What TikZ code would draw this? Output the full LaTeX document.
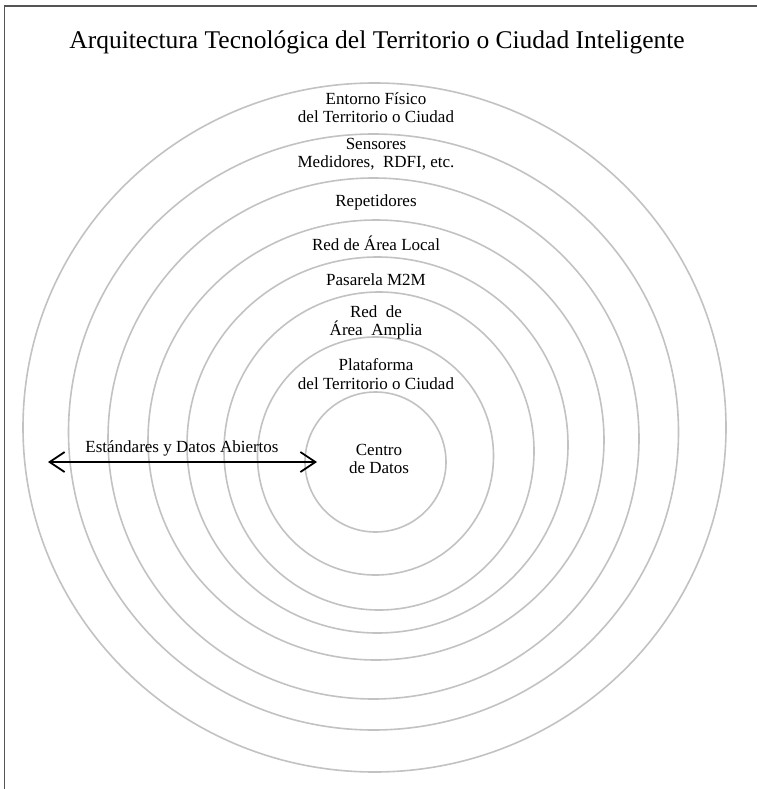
\documentclass[tikz,border=0pt]{standalone}
\usepackage{fontspec}
\setmainfont{Liberation Serif}
\usetikzlibrary{arrows.meta}
\definecolor{ringgray}{HTML}{C2C2C2}
\definecolor{framegray}{HTML}{555555}
\begin{document}
\begin{tikzpicture}[x=1pt,y=-1pt,
  ring/.style={draw=ringgray, line width=1.6pt},
  lbl/.style={font=\fontsize{17}{18.5}\selectfont, align=center, inner sep=0pt},
  frameline/.style={draw=framegray, line width=1.5pt},
  twoway/.style={line width=1.8pt, {Straight Barb[length=15pt,width=20pt,line width=1.8pt]}-{Straight Barb[length=15pt,width=20pt,line width=1.8pt]}}
  ]
\useasboundingbox (0,0) rectangle (756,789);
% frame: only the left and top edges fall inside the page
\draw[frameline] (4.7,800) -- (4.7,6) -- (770,6);

% title
\node[font=\fontsize{25.5}{28}\selectfont, inner sep=0pt] (title) at (377,42)
  {Arquitectura Tecnológica del Territorio o Ciudad Inteligente};

% nested rings, outermost first
\draw[ring] (374.5,427.5) ellipse [x radius=351.5pt, y radius=344.5pt];
\draw[ring] (373.5,432)   ellipse [x radius=305pt,   y radius=298pt];
\draw[ring] (373.5,438.5) ellipse [x radius=265.5pt, y radius=260.5pt];
\draw[ring] (376,440)     ellipse [x radius=228pt,   y radius=220pt];
\draw[ring] (377.5,445)   ellipse [x radius=190.5pt, y radius=188pt];
\draw[ring] (379,451)     ellipse [x radius=155pt,   y radius=159pt];
\draw[ring] (375.5,456)   ellipse [x radius=118pt,   y radius=119pt];
\draw[ring] (375.5,462)   ellipse [x radius=70.5pt,  y radius=70pt];

% ring labels
\node[lbl] (entorno)    at (376,107.5) {Entorno Físico\\del Territorio o Ciudad};
\node[lbl] (sensores)   at (376,154)   {Sensores\\Medidores,\ \ RDFI, etc.};
\node[lbl] (repet)      at (376,202)   {Repetidores};
\node[lbl] (lan)        at (376,243)   {Red de Área Local};
\node[lbl] (pasarela)   at (376,280)   {Pasarela M2M};
\node[lbl] (wan)        at (376,322.5) {Red\ \ de\\Área\ \ Amplia};
\node[lbl] (plataforma) at (376,374)   {Plataforma\\del Territorio o Ciudad};
\node[lbl] (centro)     at (379,459)   {Centro\\de Datos};

% standards arrow
\coordinate (arrL) at (48,462);
\coordinate (arrR) at (317,462);
\draw[twoway] (arrL) -- (arrR);
\node[lbl] (estandares) at (182,448) {Estándares y Datos Abiertos};
\end{tikzpicture}
\end{document}
